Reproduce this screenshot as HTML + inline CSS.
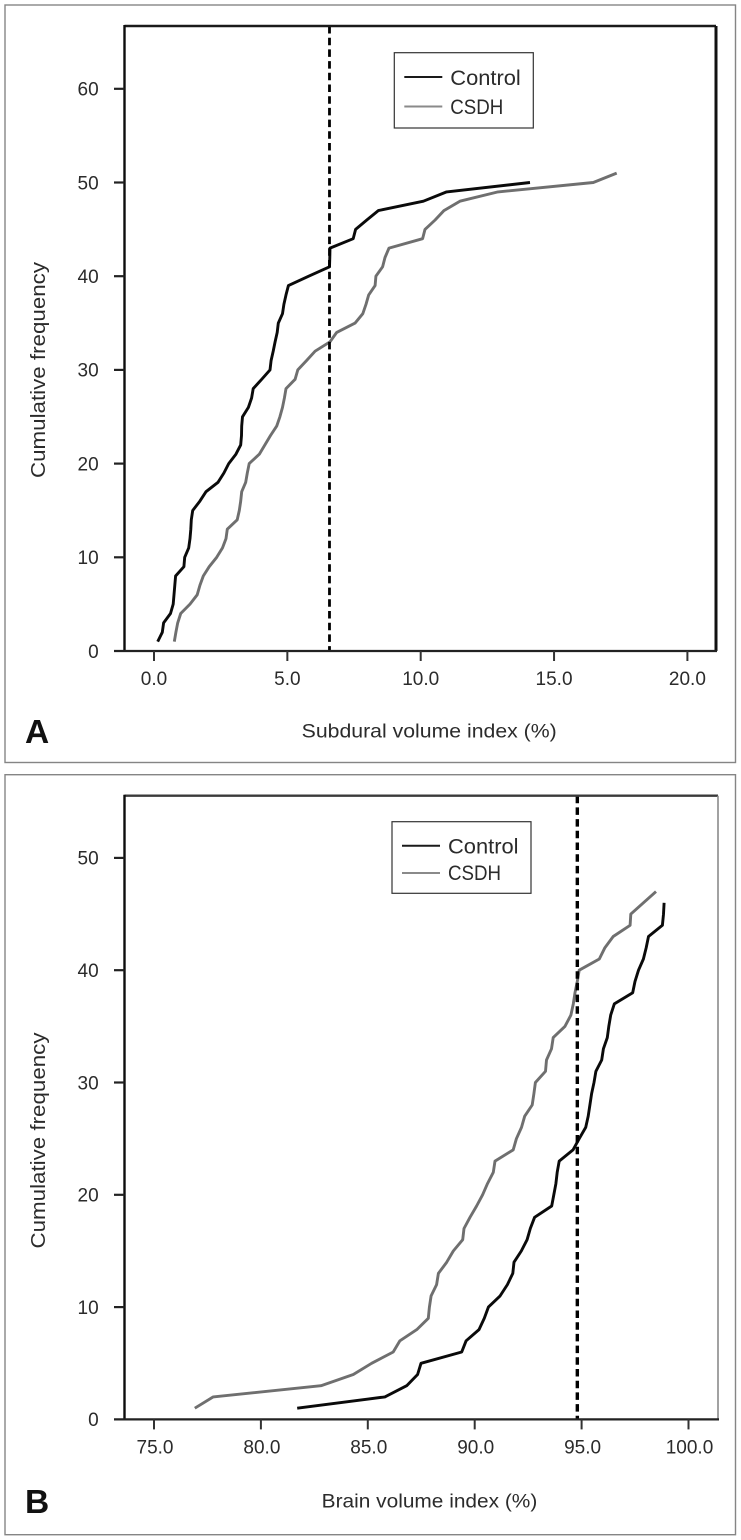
<!DOCTYPE html>
<html lang="en">
<head>
<meta charset="utf-8">
<title>Cumulative frequency charts</title>
<style>
html,body{margin:0;padding:0;background:#fff;}
svg{display:block;}
text{font-family:"Liberation Sans",sans-serif;fill:#2b2b2b;font-size:19px;}
</style>
</head>
<body>
<svg id="figure" xmlns="http://www.w3.org/2000/svg" width="741" height="1540" viewBox="0 0 741 1540">
  <rect width="741" height="1540" fill="#fff"></rect>
  <g id="panel-a">
    <rect x="5" y="5" width="730.5" height="757.5" fill="none" stroke="#858585" stroke-width="1.4"></rect>
    <text x="25" y="743" style="font-size:33.5px;font-weight:bold;fill:#111">A</text>
    <text x="301.7" y="737.3" textLength="255" lengthAdjust="spacingAndGlyphs" style="font-size:19.5px">Subdural volume index (%)</text>
    <text transform="translate(45,478) rotate(-90)" textLength="216" lengthAdjust="spacingAndGlyphs" style="font-size:20px">Cumulative frequency</text>
  </g>
  <g id="panel-b">
    <rect x="5" y="774.7" width="730.5" height="760" fill="none" stroke="#858585" stroke-width="1.4"></rect>
    <text x="25" y="1513" style="font-size:33.5px;font-weight:bold;fill:#111">B</text>
    <text x="321.7" y="1507.7" textLength="215.6" lengthAdjust="spacingAndGlyphs" style="font-size:19.5px">Brain volume index (%)</text>
    <text transform="translate(45,1248.5) rotate(-90)" textLength="216" lengthAdjust="spacingAndGlyphs" style="font-size:20px">Cumulative frequency</text>
  </g>
</svg>
<script>
// Panel A data: x value for each cumulative frequency (1, 2, 3, ...)
var subduralControl = [0.14,0.31,0.36,0.62,0.72,0.75,0.78,0.81,1.12,1.15,1.3,1.35,1.38,1.4,1.45,1.72,1.95,2.4,2.62,2.8,3.07,3.25,3.28,3.29,3.32,3.54,3.66,3.72,4.04,4.35,4.39,4.47,4.54,4.62,4.66,4.82,4.87,4.95,5.04,5.8,6.58,6.59,6.6,7.47,7.56,7.98,8.41,10.1,10.97,14.1];
var subduralCsdh = [0.76,0.82,0.89,1.0,1.35,1.62,1.72,1.85,2.07,2.35,2.57,2.7,2.75,3.12,3.2,3.25,3.29,3.44,3.5,3.57,3.95,4.16,4.37,4.6,4.72,4.82,4.89,4.95,5.29,5.39,5.72,6.04,6.6,6.85,7.54,7.83,7.95,8.05,8.29,8.32,8.57,8.66,8.81,10.07,10.16,10.54,10.87,11.47,12.9,16.47,17.35];
var subduralXTicks = ["0.0","5.0","10.0","15.0","20.0"];
var subduralYTicks = [0,10,20,30,40,50,60];
var subduralCutoff = 6.58;

// Panel B data: x value for each cumulative frequency (1, 2, 3, ...)
var brainControl = [81.7,85.8,86.82,87.33,87.49,89.39,89.6,90.2,90.45,90.64,91.19,91.53,91.78,91.84,92.18,92.45,92.6,92.8,93.6,93.7,93.8,93.86,93.95,94.6,94.89,95.19,95.31,95.39,95.47,95.58,95.67,95.94,96.02,96.2,96.27,96.36,96.53,97.39,97.5,97.66,97.89,98.02,98.13,98.78,98.83,98.86];
var brainCsdh = [76.91,77.77,82.81,84.32,85.18,86.19,86.5,87.29,87.83,87.88,87.96,88.22,88.3,88.69,89.0,89.44,89.5,89.78,90.09,90.37,90.6,90.87,90.95,91.8,91.95,92.19,92.34,92.69,92.77,92.84,93.31,93.36,93.59,93.67,94.22,94.5,94.61,94.69,94.8,94.89,95.83,96.09,96.48,97.27,97.3,97.89,98.48];
var brainXTicks = ["75.0","80.0","85.0","90.0","95.0","100.0"];
var brainYTicks = [0,10,20,30,40,50];
var brainCutoff = 94.8;

var legendLabels = ["Control","CSDH"];

var NS = "http://www.w3.org/2000/svg";

function mk(parent, tag, attrs, txt) {
  var e = document.createElementNS(NS, tag);
  for (var k in attrs) e.setAttribute(k, attrs[k]);
  if (txt !== undefined) e.textContent = txt;
  parent.appendChild(e);
  return e;
}

function drawPanel(host, o) {
  var sx = function (v) { return o.x0 + (v - o.xv0) * o.xs; };
  var sy = function (v) { return o.y0 - v * o.ys; };
  var i, el;

  // data lines
  var series = [[o.csdh, "#6f6f6f", "csdh-line"], [o.control, "#0a0a0a", "control-line"]];
  series.forEach(function (s) {
    var pts = s[0].map(function (x, idx) {
      return sx(x).toFixed(1) + "," + sy(idx + 1).toFixed(1);
    }).join(" ");
    var line = mk(host, "polyline", { points: pts, fill: "none", stroke: s[1], "stroke-width": 2.9, "stroke-linejoin": "round" });
    
    
  });

  // cutoff line
  var cut = mk(host, "line", { x1: sx(o.cutoff), x2: sx(o.cutoff), y1: o.top, y2: o.y0, stroke: "#000", "stroke-width": o.cutW, "stroke-dasharray": "7.5 4.2" });
  
  

  // frame
  var seg = function (x1, y1, x2, y2, col, w, name) {
    var s = mk(host, "line", { x1: x1, y1: y1, x2: x2, y2: y2, stroke: col, "stroke-width": w });
    
    
  };
  seg(o.left, o.top, o.right, o.top, o.topCol, 2.4, "plot-top-border");
  seg(o.right, o.top, o.right, o.y0, o.rightCol, o.rightW, "plot-right-border");
  seg(o.left, o.top - 1, o.left, o.y0 + 1, "#0d0d0d", 2.4, "y-axis-line");
  seg(114, o.y0, o.right + 1, o.y0, "#222", 2.2, "x-axis-line");

  // y ticks
  for (i = 0; i < o.yTicks.length; i++) {
    var yy = sy(o.yTicks[i]);
    if (o.yTicks[i] !== 0) seg(114, yy, o.left, yy, "#222", 2.2, "y-tick");
    el = mk(host, "text", { x: 98.7, y: yy + 6.8, "text-anchor": "end" }, o.yTicks[i]);
    
    
  }

  // x ticks
  for (i = 0; i < o.xTicks.length; i++) {
    var xx = sx(parseFloat(o.xTicks[i]));
    seg(xx, o.y0, xx, o.y0 + 10, "#333", 2, "x-tick");
    el = mk(host, "text", { x: xx + o.xLabelDx, y: o.y0 + 34, "text-anchor": "middle" }, o.xTicks[i]);
    
    
  }

  // legend
  var lg = mk(host, "g", {});
  
  
  mk(lg, "rect", { x: o.lx, y: o.ly, width: 139, height: o.lh, fill: "#fff", stroke: "#333", "stroke-width": 1.2 });
  var colors = ["#1a1a1a", "#8a8a8a"];
  var widths = [70.5, 53];
  for (i = 0; i < 2; i++) {
    var k = mk(lg, "line", { x1: o.lx + 10, x2: o.lx + 48, y1: o.lineY[i], y2: o.lineY[i], stroke: colors[i], "stroke-width": 2 });
    
    
    el = mk(lg, "text", { x: o.lx + 56, y: o.textY[i], textLength: widths[i], lengthAdjust: "spacingAndGlyphs", style: "font-size:21.5px" }, legendLabels[i]);
    
    
  }
}

drawPanel(document.getElementById("panel-a"), {
  control: subduralControl, csdh: subduralCsdh, xTicks: subduralXTicks, yTicks: subduralYTicks, cutoff: subduralCutoff,
  x0: 154, xv0: 0, xs: 26.67, y0: 651, ys: 9.37, left: 124.5, right: 716, top: 26,
  topCol: "#1a1a1a", rightCol: "#111", rightW: 3, cutW: 2.8, xLabelDx: 0,
  lx: 394.3, ly: 52.7, lh: 75.3, lineY: [77, 106.5], textY: [85, 114]
});
drawPanel(document.getElementById("panel-b"), {
  control: brainControl, csdh: brainCsdh, xTicks: brainXTicks, yTicks: brainYTicks, cutoff: brainCutoff,
  x0: 154, xv0: 75, xs: 21.38, y0: 1419.4, ys: 11.23, left: 124.5, right: 718, top: 795.7,
  topCol: "#3a3a3a", rightCol: "#8a8a8a", rightW: 1.6, cutW: 3.4, xLabelDx: 1,
  lx: 392, ly: 821.7, lh: 71.6, lineY: [845.7, 873], textY: [853.3, 880]
});
</script>
</body>
</html>
